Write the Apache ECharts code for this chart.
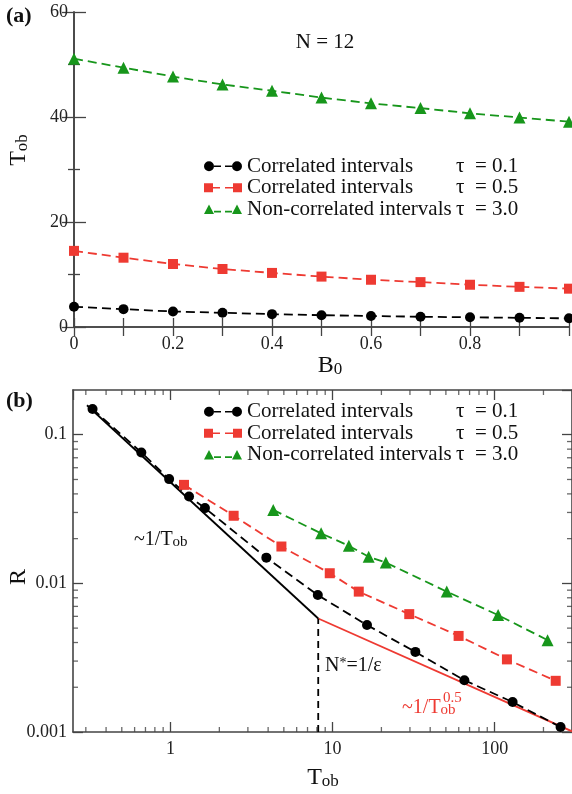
<!DOCTYPE html>
<html>
<head>
<meta charset="utf-8">
<script src="https://cdn.jsdelivr.net/npm/echarts@6/dist/echarts.min.js"></script>
<style>
  html, body { margin: 0; padding: 0; background: #fff; }
  #chart { width: 572px; height: 794px; }
</style>
</head>
<body>
<div id="chart"></div>
<script>
// panel (a): T_ob vs B0, N = 12
const b0 = [0, 0.1, 0.2, 0.3, 0.4, 0.5, 0.6, 0.7, 0.8, 0.9, 1.0];
const tobCorr01 = [3.85, 3.4, 2.95, 2.7, 2.45, 2.25, 2.1, 1.95, 1.85, 1.75, 1.65];
const tobCorr05 = [14.5, 13.2, 12.0, 11.05, 10.3, 9.6, 9.0, 8.55, 8.05, 7.65, 7.3];
const tobNonCorr30 = [51.1, 49.4, 47.7, 46.2, 45.0, 43.7, 42.6, 41.7, 40.7, 39.9, 39.1];

// panel (b): R vs T_ob (log-log)
const tB01 = [0.33, 0.66, 0.98, 1.3, 1.63, 3.9, 8.1, 16.3, 32.4, 65, 129, 255];
const rB01 = [0.149, 0.076, 0.0503, 0.0384, 0.0321, 0.0149, 0.00834, 0.00524, 0.00346, 0.00223, 0.00159, 0.00108];
const tB05 = [1.21, 2.45, 4.83, 9.6, 14.5, 29.7, 59.9, 119, 238];
const rB05 = [0.046, 0.0285, 0.0177, 0.0117, 0.0088, 0.00621, 0.00443, 0.00308, 0.00221];
const tB30 = [4.3, 8.49, 12.6, 16.7, 21.3, 50.6, 105, 212];
const rB30 = [0.0312, 0.0217, 0.0179, 0.0151, 0.0138, 0.0088, 0.00612, 0.00415];

// guide lines ~1/T_ob and ~1/T_ob^0.5, crossover at N* = 1/eps
const fitT1 = [0.305, 8.15], fitR1 = [0.158, 0.0058];
const fitT2 = [8.15, 300], fitR2 = [0.0058, 0.00101];
const nStarT = [8.15, 8.15], nStarR = [0.001, 0.0058];

const legendNames = ["Correlated intervals", "Correlated intervals", "Non-correlated intervals"];
const legendTaus = ["0.1", "0.5", "3.0"];

const xMinB = 0.25, xMaxB = 300, yMinB = 0.001, yMaxB = 0.2;

const BLACK = "#000000", RED = "#ee3a32", GREEN = "#17961b", AX = "#444";
const serif = "Liberation Serif";

const zip = (xs, ys) => xs.map((x, i) => [x, ys[i]]);

// log minor ticks at 2..9 x 10^k
const minorX = [], minorY = [];
[0.1, 1, 10, 100].forEach((d) => {
  for (let k = 2; k <= 9; k++) { const v = d * k; if (v > xMinB && v < xMaxB) minorX.push(v); }
});
[0.001, 0.01, 0.1].forEach((d) => {
  for (let k = 2; k <= 9; k++) { const v = d * k; if (v > yMinB && v < yMaxB) minorY.push(v); }
});

const icons = {
  circle: "path://M0,5A5,5,0,1,1,10,5A5,5,0,1,1,0,5Z M10,4.2L17,4.2L17,5.8L10,5.8Z M21,4.2L28,4.2L28,5.8L21,5.8Z M28,5A5,5,0,1,1,38,5A5,5,0,1,1,28,5Z",
  rect: "path://M0,0.5L9,0.5L9,9.5L0,9.5Z M9,4.2L16,4.2L16,5.8L9,5.8Z M21,4.2L29,4.2L29,5.8L21,5.8Z M29,0.5L38,0.5L38,9.5L29,9.5Z",
  triangle: "path://M0,10L5,0.5L10,10Z M10,6.8L17,6.8L17,8.4L10,8.4Z M21,6.8L28,6.8L28,8.4L21,8.4Z M28,10L33,0.5L38,10Z",
};

const legendText = (i) => `{a|${legendNames[i]}}{b|τ  = ${legendTaus[i]}}`;

function legendBlock(ids, top) {
  return {
    orient: "vertical", left: 204, top, padding: 0, itemGap: 0,
    itemWidth: 38, itemHeight: 10, selectedMode: false,
    data: [
      { name: ids[0], icon: icons.circle },
      { name: ids[1], icon: icons.rect },
      { name: ids[2], icon: icons.triangle },
    ],
    formatter: (name) => legendText(ids.indexOf(name)),
    textStyle: {
      color: "#111", fontFamily: serif, fontSize: 21, lineHeight: 21.5,
      rich: {
        a: { fontFamily: serif, fontSize: 21, width: 209, lineHeight: 21.5, color: "#111" },
        b: { fontFamily: serif, fontSize: 21, lineHeight: 21.5, color: "#111" },
      },
    },
  };
}

const tickLabel = { color: "#222", fontFamily: serif, fontSize: 18 };
const axLine = { show: true, lineStyle: { color: AX, width: 1.6 } };
const tickStyle = { color: AX, width: 1.3 };

function dataLine(name, xs, ys, color, symbol, size, xi, yi) {
  return {
    name, type: "line", xAxisIndex: xi, yAxisIndex: yi,
    data: zip(xs, ys), symbol, symbolSize: size, showSymbol: true,
    itemStyle: { color }, lineStyle: { color, width: 1.8, type: [9, 5] },
    z: 5,
  };
}

function guide(xs, ys, color, dashed) {
  return {
    type: "line", xAxisIndex: 2, yAxisIndex: 2, data: zip(xs, ys),
    symbol: "none", silent: true, z: 3,
    lineStyle: { color, width: 1.8, type: dashed ? [7, 5] : "solid" },
  };
}

function tickMarks(data, size, offset) {
  return {
    type: "scatter", xAxisIndex: 2, yAxisIndex: 2, data, symbol: "rect",
    symbolSize: size, symbolOffset: offset, clip: false, silent: true,
    itemStyle: { color: AX }, z: 1,
  };
}

const subStyle = (main, sub, drop) => ({
  m: { fontFamily: serif, fontSize: main, lineHeight: main },
  s: { fontFamily: serif, fontSize: sub, lineHeight: drop, verticalAlign: "bottom" },
});

const chart = echarts.init(document.getElementById("chart"));

chart.setOption({
  animation: false,
  backgroundColor: "#fff",
  grid: [
    { left: 74, top: 12, width: 503, height: 315 },
    { left: 73, top: 390, width: 505, height: 342 },
  ],
  xAxis: [
    {
      gridIndex: 0, type: "value", min: 0, max: 1, interval: 0.1,
      axisLine: axLine, splitLine: { show: false },
      axisTick: { inside: true, length: 9, lineStyle: tickStyle },
      axisLabel: {
        ...tickLabel, margin: 8,
        formatter: (v) => {
          const k = Math.round(v * 10);
          if (k % 2 !== 0 || k >= 10) return "";
          return k === 0 ? "0" : (k / 10).toFixed(1);
        },
      },
    },
    {
      gridIndex: 0, type: "value", min: 0, max: 1, interval: 0.1, position: "top",
      axisLine: axLine, splitLine: { show: false }, axisLabel: { show: false },
      axisTick: { inside: true, length: 9, lineStyle: tickStyle },
    },
    {
      gridIndex: 1, type: "log", logBase: 10, min: xMinB, max: xMaxB,
      axisLine: axLine, splitLine: { show: false },
      axisTick: { inside: true, length: 10, lineStyle: tickStyle },
      axisLabel: {
        ...tickLabel, margin: 8, showMinLabel: false, showMaxLabel: false,
        formatter: (v) => String(+(+v).toPrecision(3)),
      },
    },
    {
      gridIndex: 1, type: "log", logBase: 10, min: xMinB, max: xMaxB, position: "top",
      axisLine: axLine, splitLine: { show: false }, axisLabel: { show: false },
      axisTick: { inside: true, length: 10, lineStyle: tickStyle },
    },
  ],
  yAxis: [
    {
      gridIndex: 0, type: "value", min: 0, max: 60, interval: 20,
      axisLine: axLine, splitLine: { show: false },
      axisTick: { inside: true, length: 12, lineStyle: tickStyle },
      minorTick: { show: true, splitNumber: 2, length: 6, lineStyle: tickStyle },
      axisLabel: { ...tickLabel, margin: 6 },
    },
    {
      gridIndex: 0, type: "value", min: 0, max: 60, interval: 20, position: "right",
      axisLine: axLine, splitLine: { show: false }, axisLabel: { show: false },
      axisTick: { inside: true, length: 12, lineStyle: tickStyle },
      minorTick: { show: true, splitNumber: 2, length: 6, lineStyle: tickStyle },
    },
    {
      gridIndex: 1, type: "log", logBase: 10, min: yMinB, max: yMaxB,
      axisLine: axLine, splitLine: { show: false },
      axisTick: { inside: true, length: 10, lineStyle: tickStyle },
      axisLabel: {
        ...tickLabel, margin: 6, showMaxLabel: false,
        formatter: (v) => String(+(+v).toPrecision(2)),
      },
    },
    {
      gridIndex: 1, type: "log", logBase: 10, min: yMinB, max: yMaxB, position: "right",
      axisLine: axLine, splitLine: { show: false }, axisLabel: { show: false },
      axisTick: { inside: true, length: 10, lineStyle: tickStyle },
    },
  ],
  legend: [
    legendBlock(["a1", "a2", "a3"], 155.5),
    legendBlock(["b1", "b2", "b3"], 401),
  ],
  series: [
    dataLine("a1", b0, tobCorr01, BLACK, "circle", 10, 0, 0),
    dataLine("a2", b0, tobCorr05, RED, "rect", 10, 0, 0),
    dataLine("a3", b0, tobNonCorr30, GREEN, "triangle", 12, 0, 0),

    guide(fitT1, fitR1, BLACK, false),
    guide(fitT2, fitR2, RED, false),
    guide(nStarT, nStarR, BLACK, true),

    dataLine("b1", tB01, rB01, BLACK, "circle", 10, 2, 2),
    dataLine("b2", tB05, rB05, RED, "rect", 10, 2, 2),
    dataLine("b3", tB30, rB30, GREEN, "triangle", 12, 2, 2),

    tickMarks(minorX.map((v) => [v, yMinB]), [1.3, 5], [0, -2.5]),
    tickMarks(minorX.map((v) => [v, yMaxB]), [1.3, 5], [0, 2.5]),
    tickMarks(minorY.map((v) => [xMinB, v]), [5, 1.3], [2.5, 0]),
    tickMarks(minorY.map((v) => [xMaxB, v]), [5, 1.3], [-2.5, 0]),
  ],
  graphic: [
    { type: "text", x: 6, y: 16, style: { text: "(a)", font: `bold 22px "${serif}"`, fill: "#111", textVerticalAlign: "middle" } },
    { type: "text", x: 6, y: 401, style: { text: "(b)", font: `bold 22px "${serif}"`, fill: "#111", textVerticalAlign: "middle" } },
    { type: "text", x: 325, y: 42, style: { text: "N = 12", font: `21px "${serif}"`, fill: "#111", textAlign: "center", textVerticalAlign: "middle" } },
    {
      type: "text", x: 19, y: 150, rotation: Math.PI / 2,
      style: { text: "{m|T}{s|ob}", textAlign: "center", textVerticalAlign: "middle", fill: "#111", rich: subStyle(24, 17, 12) },
    },
    {
      type: "text", x: 330, y: 366,
      style: { text: "{m|B}{s|0}", textAlign: "center", textVerticalAlign: "middle", fill: "#111", rich: subStyle(24, 17, 12) },
    },
    { type: "text", x: 19, y: 577, rotation: Math.PI / 2, style: { text: "R", font: `24px "${serif}"`, fill: "#111", textAlign: "center", textVerticalAlign: "middle" } },
    {
      type: "text", x: 323, y: 778,
      style: { text: "{m|T}{s|ob}", textAlign: "center", textVerticalAlign: "middle", fill: "#111", rich: subStyle(24, 17, 12) },
    },
    {
      type: "text", x: 134, y: 540,
      style: { text: "{m|~1/T}{s|ob}", textAlign: "left", textVerticalAlign: "middle", fill: "#111", rich: subStyle(20, 15, 10) },
    },
    {
      type: "text", x: 325, y: 666,
      style: {
        text: "{m|N}{p|*}{m|=1/ε}", textAlign: "left", textVerticalAlign: "middle", fill: "#111",
        rich: { m: { fontFamily: serif, fontSize: 20, lineHeight: 20 }, p: { fontFamily: serif, fontSize: 14, lineHeight: 10, verticalAlign: "top" } },
      },
    },
    {
      type: "text", x: 402, y: 708,
      style: { text: "{m|~1/T}{s|ob}", textAlign: "left", textVerticalAlign: "middle", fill: RED, rich: subStyle(20, 15, 10) },
    },
    { type: "text", x: 443, y: 698, style: { text: "0.5", font: `15px "${serif}"`, fill: RED, textAlign: "left", textVerticalAlign: "middle" } },
  ],
});
</script>
</body>
</html>
